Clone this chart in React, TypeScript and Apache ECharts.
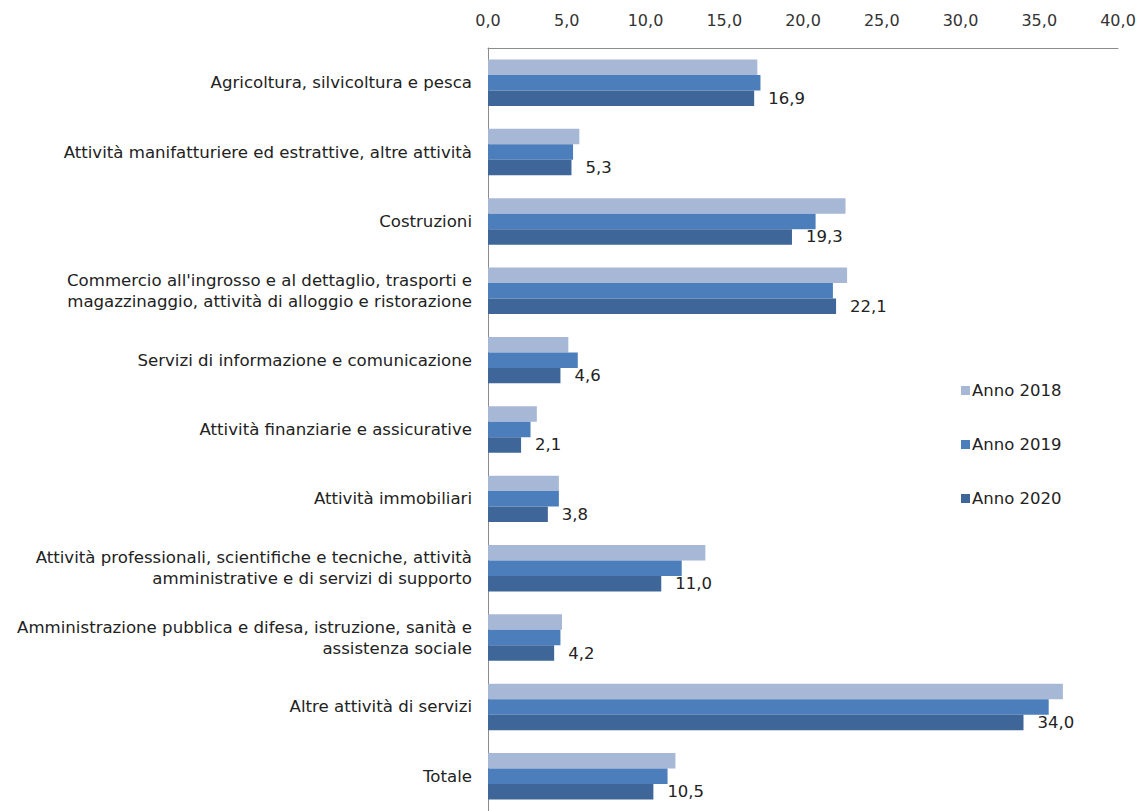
import React, { useEffect, useRef } from "react";
import * as echarts from "echarts";

const categories = [
  "Agricoltura, silvicoltura e pesca",
  "Attività manifatturiere ed estrattive, altre attività",
  "Costruzioni",
  "Commercio all'ingrosso e al dettaglio, trasporti e\nmagazzinaggio, attività di alloggio e ristorazione",
  "Servizi di informazione e comunicazione",
  "Attività finanziarie e assicurative",
  "Attività immobiliari",
  "Attività professionali, scientifiche e tecniche, attività\namministrative e di servizi di supporto",
  "Amministrazione pubblica e difesa, istruzione, sanità e\nassistenza sociale",
  "Altre attività di servizi",
  "Totale",
];

const anno2018 = [17.1, 5.8, 22.7, 22.8, 5.1, 3.1, 4.5, 13.8, 4.7, 36.5, 11.9];
const anno2019 = [17.3, 5.4, 20.8, 21.9, 5.7, 2.7, 4.5, 12.3, 4.6, 35.6, 11.4];
const anno2020 = [16.9, 5.3, 19.3, 22.1, 4.6, 2.1, 3.8, 11.0, 4.2, 34.0, 10.5];

const seriesNames = ["Anno 2018", "Anno 2019", "Anno 2020"];
const colors = ["#A7B7D6", "#4C7EBB", "#3F6699"];

const fmt = (v: number) => v.toFixed(1).replace(".", ",");

export default function App() {
  const ref = useRef<HTMLDivElement>(null);
  useEffect(() => {
    if (!ref.current) return;
    const chart = echarts.init(ref.current, undefined, { renderer: "svg" });
    const font = "'DejaVu Sans', Verdana, sans-serif";
    const datasets = [anno2018, anno2019, anno2020];
    chart.setOption({
      animation: false,
      backgroundColor: "#ffffff",
      textStyle: { fontFamily: font },
      legend: {
        orient: "vertical",
        left: 956,
        top: 377,
        itemWidth: 9,
        itemHeight: 9,
        itemGap: 37,
        icon: "rect",
        data: seriesNames,
        textStyle: { fontSize: 16.5, color: "#222", fontFamily: font, padding: [0, 0, 0, -3] },
      },
      grid: { left: 488, right: 22, top: 48, bottom: -7, containLabel: false },
      xAxis: {
        type: "value",
        position: "top",
        min: 0,
        max: 40,
        interval: 5,
        axisLine: { show: true, lineStyle: { color: "#8c8c8c", width: 1 } },
        axisTick: { show: false },
        splitLine: { show: false },
        axisLabel: {
          margin: 20,
          fontSize: 16,
          color: "#333",
          fontFamily: font,
          formatter: (v: number) => fmt(v),
        },
      },
      yAxis: {
        type: "category",
        inverse: true,
        data: categories,
        axisLine: { show: true, lineStyle: { color: "#8c8c8c", width: 1 } },
        axisTick: { show: false },
        axisLabel: {
          margin: 16,
          fontSize: 16.6,
          color: "#222",
          lineHeight: 21,
          align: "right",
          fontFamily: font,
        },
      },
      series: datasets.map((d, i) => ({
        name: seriesNames[i],
        type: "bar",
        data: d,
        barGap: "0%",
        barCategoryGap: "33%",
        itemStyle: { color: colors[i] },
        label:
          i === 2
            ? {
                show: true,
                position: "right",
                distance: 14,
                fontSize: 16.5,
                color: "#222",
                fontFamily: font,
                formatter: (p: any) => fmt(p.value),
              }
            : { show: false },
      })),
    });
    return () => chart.dispose();
  }, []);
  return (
    <div
      ref={ref}
      style={{ position: "absolute", left: 0, top: 0, width: 1140, height: 811 }}
    />
  );
}
